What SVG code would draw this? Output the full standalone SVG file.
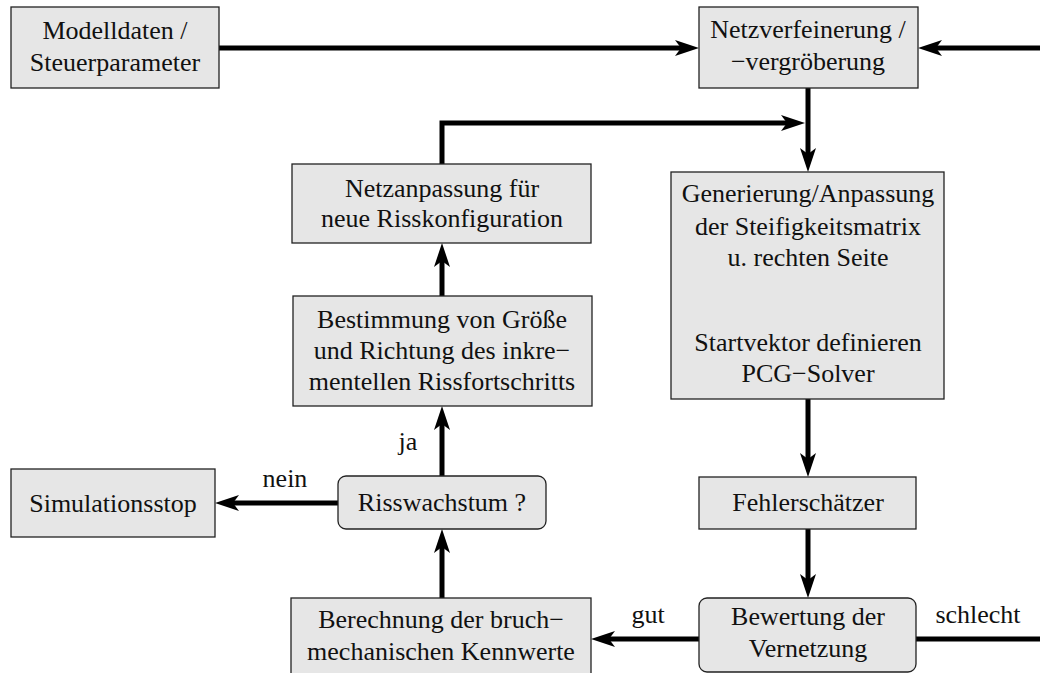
<svg xmlns="http://www.w3.org/2000/svg" width="1040" height="673" viewBox="0 0 1040 673">
<style>
.box{fill:#e6e6e6;stroke:#222;stroke-width:1.3}
.t{font-family:"Liberation Serif","Times New Roman",serif;font-size:26px;fill:#111;text-anchor:middle}
.c{fill:none;stroke:#000;stroke-width:5;stroke-linejoin:miter}
</style>
<defs>
<marker id="ah" markerUnits="userSpaceOnUse" viewBox="0 0 24 16" markerWidth="24" markerHeight="16" refX="6" refY="8" orient="auto">
<path d="M0,0 L24,8 L0,16 L6,8 Z" fill="#000"/>
</marker>
</defs>
<rect width="1040" height="673" fill="#fff"/>
<g id="connectors">
<path class="c" d="M219,48 H681" marker-end="url(#ah)"/>
<path class="c" d="M1040,48 H936" marker-end="url(#ah)"/>
<path class="c" d="M808,88 V154" marker-end="url(#ah)"/>
<path class="c" d="M442,164 V123 H787" marker-end="url(#ah)"/>
<path class="c" d="M808,399 V459" marker-end="url(#ah)"/>
<path class="c" d="M808,529 V580" marker-end="url(#ah)"/>
<path class="c" d="M699,639 H609" marker-end="url(#ah)"/>
<path class="c" d="M916,639 H1040"/>
<path class="c" d="M442,598 V547" marker-end="url(#ah)"/>
<path class="c" d="M442,476 V424" marker-end="url(#ah)"/>
<path class="c" d="M442,296 V261" marker-end="url(#ah)"/>
<path class="c" d="M338,503 H233" marker-end="url(#ah)"/>
<text class="t" x="408" y="450">ja</text>
<text class="t" x="285" y="487">nein</text>
<text class="t" x="648" y="623">gut</text>
<text class="t" x="978" y="623">schlecht</text>
</g>
<g id="modelldaten">
<rect class="box" x="11" y="7" width="208" height="81"/>
<text class="t" x="115" y="39">Modelldaten /</text>
<text class="t" x="115" y="71">Steuerparameter</text>
</g>
<g id="netzverfeinerung">
<rect class="box" x="699" y="7" width="219" height="81"/>
<text class="t" x="808" y="38">Netzverfeinerung /</text>
<text class="t" x="808" y="70">−vergröberung</text>
</g>
<g id="netzanpassung">
<rect class="box" x="292" y="164" width="299" height="79"/>
<text class="t" x="442" y="197">Netzanpassung für</text>
<text class="t" x="442" y="227">neue Risskonfiguration</text>
</g>
<g id="generierung">
<rect class="box" x="671" y="172" width="273" height="227"/>
<text class="t" x="808" y="202">Generierung/Anpassung</text>
<text class="t" x="808" y="235">der Steifigkeitsmatrix</text>
<text class="t" x="808" y="266">u. rechten Seite</text>
<text class="t" x="808" y="351">Startvektor definieren</text>
<text class="t" x="808" y="382">PCG−Solver</text>
</g>
<g id="bestimmung">
<rect class="box" x="293" y="296" width="299" height="110"/>
<text class="t" x="442" y="328">Bestimmung von Größe</text>
<text class="t" x="442" y="359">und Richtung des inkre−</text>
<text class="t" x="442" y="390">mentellen Rissfortschritts</text>
</g>
<g id="simulationsstop">
<rect class="box" x="11" y="469" width="204" height="68"/>
<text class="t" x="113" y="512">Simulationsstop</text>
</g>
<g id="risswachstum">
<rect class="box" x="338" y="476" width="208" height="53" rx="8"/>
<text class="t" x="442" y="511">Risswachstum ?</text>
</g>
<g id="fehlerschaetzer">
<rect class="box" x="699" y="477" width="217" height="52"/>
<text class="t" x="808" y="511">Fehlerschätzer</text>
</g>
<g id="berechnung">
<rect class="box" x="291" y="598" width="300" height="76"/>
<text class="t" x="441" y="628">Berechnung der bruch−</text>
<text class="t" x="441" y="660">mechanischen Kennwerte</text>
</g>
<g id="bewertung">
<rect class="box" x="699" y="598" width="217" height="74" rx="8"/>
<text class="t" x="808" y="625">Bewertung der</text>
<text class="t" x="808" y="657">Vernetzung</text>
</g>
</svg>
